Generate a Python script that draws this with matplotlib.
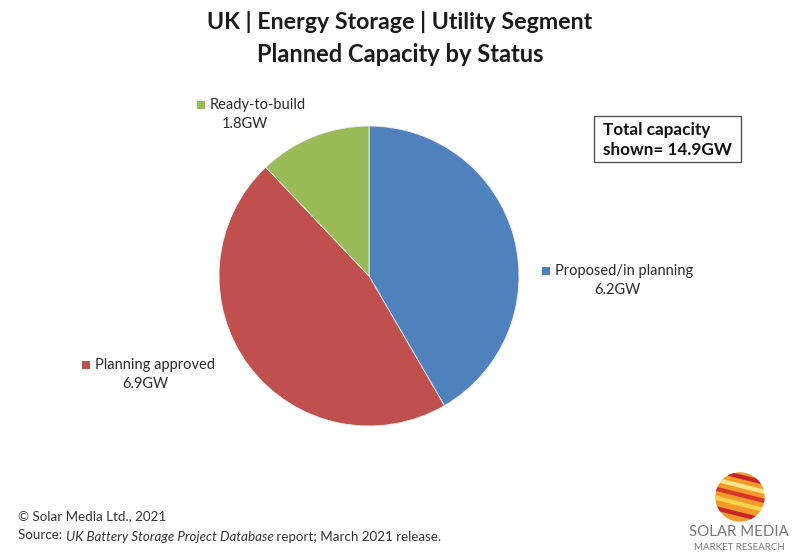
import matplotlib
matplotlib.use("Agg")
import matplotlib.pyplot as plt
from matplotlib.patches import Rectangle, Circle, Polygon
import numpy as np

plt.rcParams['font.family'] = ['Lato', 'DejaVu Sans']

categories = ["Proposed/in planning", "Planning approved", "Ready-to-build"]
values = [6.2, 6.9, 1.8]
value_labels = ["6.2GW", "6.9GW", "1.8GW"]
colors = ["#4F81BD", "#C0504D", "#9BBB59"]
title1 = "UK | Energy Storage | Utility Segment"
title2 = "Planned Capacity by Status"
total_text = "Total capacity\nshown= 14.9GW"

W, H = 800, 559
fig = plt.figure(figsize=(W / 100, H / 100), dpi=100)
fig.patch.set_facecolor("white")

def fx(x):
    return x / W

def fy(y):
    return 1 - y / H

# pie
cx, cy, r = 369, 276, 150
ax = fig.add_axes([fx(cx - r), fy(cy + r), 2 * r / W, 2 * r / H])
ax.pie(values, colors=colors, startangle=90, counterclock=False,
       wedgeprops=dict(linewidth=0.6, edgecolor="#f0f0f0"), radius=1.0)
ax.set_xlim(-1, 1)
ax.set_ylim(-1, 1)
ax.set_aspect("auto")
ax.axis("off")

# titles
fig.text(fx(400), fy(22), title1, ha="center", va="center", fontsize=16.7,
         fontweight="bold", color="#1a1a1a")
fig.text(fx(400), fy(55), title2, ha="center", va="center", fontsize=17,
         fontweight="bold", color="#1a1a1a")

# labels with square markers
label_pos = {
    "Proposed/in planning": (555, 271, 617, 290),
    "Planning approved": (95, 365, 145, 384),
    "Ready-to-build": (210, 105, 245, 124),
}
for cat, vl, col in zip(categories, value_labels, colors):
    lx, ly, vx, vy = label_pos[cat]
    fig.patches.append(Rectangle((fx(lx - 13), fy(ly + 4)), 8 / W, 8 / H,
                                 transform=fig.transFigure, facecolor=col,
                                 edgecolor="none"))
    fig.text(fx(lx), fy(ly), cat, ha="left", va="center", fontsize=10.5,
             color="#2a2a2a")
    fig.text(fx(vx), fy(vy), vl, ha="center", va="center", fontsize=10.5,
             color="#2a2a2a")

# total box
fig.patches.append(Rectangle((fx(594), fy(162)), 147 / W, 46 / H,
                             transform=fig.transFigure, facecolor="white",
                             edgecolor="#555555", linewidth=1.0))
fig.text(fx(603), fy(140), total_text, ha="left", va="center", fontsize=12.3,
         fontweight="bold", color="#111111", linespacing=1.3)

# footer
fs = 9.6
fig.text(fx(18), fy(516), "\u00a9 Solar Media Ltd., 2021", ha="left",
         va="center", fontsize=fs, color="#333333")
t1 = fig.text(fx(18), fy(535), "Source: ", ha="left", va="center",
              fontsize=fs, color="#333333")
t2 = fig.text(0, 0, "UK Battery Storage Project Database", fontsize=fs,
              style="italic", color="#333333", ha="left", va="baseline")
t3 = fig.text(0, 0, " report; March 2021 release.", fontsize=fs,
              color="#333333", ha="left", va="baseline")
fig.canvas.draw()
rend = fig.canvas.get_renderer()
inv = fig.transFigure.inverted()
bb1 = t1.get_window_extent(rend)
_, _, d = rend.get_text_width_height_descent("Source: ", t1.get_fontproperties(), ismath=False)
base_y = bb1.y0 + d
p = inv.transform((bb1.x1, base_y))
t2.set_position(p)
bb2 = t2.get_window_extent(rend)
p3 = inv.transform((bb2.x1, base_y))
t3.set_position(p3)

# logo
lax = fig.add_axes([fx(714), fy(523), 52 / W, 52 / H])
lax.set_xlim(-1, 1)
lax.set_ylim(-1, 1)
lax.axis("off")
sphere = Circle((0, 0), 0.95, facecolor="#F39A2B", edgecolor="none")
lax.add_patch(sphere)
stripes = [(-0.75, "#C8242B"), (-0.35, "#FCD34D"), (0.0, "#D9342B"),
           (0.35, "#FDE68A"), (0.7, "#C8242B")]
for off, c in stripes:
    poly = Polygon([(-1, off + 0.25), (1, off - 0.25), (1, off - 0.08),
                    (-1, off + 0.42)], closed=True, facecolor=c,
                   edgecolor="none")
    lax.add_patch(poly)
    poly.set_clip_path(sphere)
fig.text(fx(739), fy(532), "SOLAR MEDIA", ha="center", va="center",
         fontsize=10.8, color="#7a7a7a")
fig.text(fx(739), fy(547), "MARKET RESEARCH", ha="center", va="center",
         fontsize=7, color="#7a7a7a")

fig.savefig("out.png", dpi=100, facecolor="white")
